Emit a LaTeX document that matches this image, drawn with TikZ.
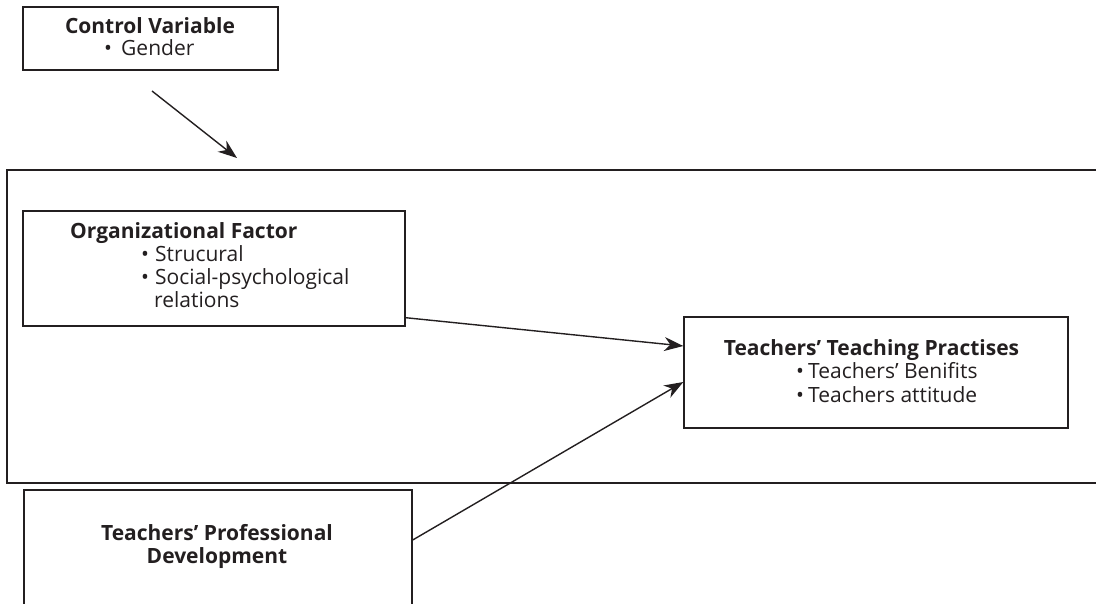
\documentclass[tikz,border=0pt]{standalone}
\usepackage{fontspec}
\setmainfont{Open Sans}
\usetikzlibrary{arrows.meta}
\definecolor{ink}{HTML}{231F20}
\begin{document}
\begin{tikzpicture}[x=1pt,y=-1pt,
  box/.style={draw=ink,line width=1.4pt,rectangle,inner sep=0pt},
  txt/.style={inner sep=0pt,text=ink,font=\fontsize{21}{23}\selectfont},
  ttl/.style={txt,font=\fontsize{21}{23}\selectfont\bfseries},
  arr/.style={draw=ink,line width=1.4pt,-{Stealth[length=19pt,width=14pt,inset=6pt]}}]
\useasboundingbox (0,0) rectangle (1096,603);
\clip (0,0) rectangle (1096,603);
% boxes
\node[box,minimum width=255pt,minimum height=63pt] (cv) at (150.5,38.5) {};
\draw[draw=ink,line width=1.4pt] (7,170) rectangle (1120,483);
\node[box,minimum width=382pt,minimum height=115pt] (org) at (214,268.5) {};
\node[box,minimum width=384pt,minimum height=111pt] (ttp) at (876,372.5) {};
\node[box,minimum width=388pt,minimum height=125pt] (prof) at (218,552.5) {};
% texts
\node[ttl,anchor=base] (cvt) at (150,33) {Control Variable};
\node[txt,anchor=base west] (cvb) at (104,55) {•};
\node[txt,anchor=base west] (cvg) at (121,55) {Gender};
\node[ttl,anchor=base west] (orgt) at (70,238) {Organizational Factor};
\node[txt,anchor=base west] (orgb1) at (141,261) {•};
\node[txt,anchor=base west] (orgs1) at (155,261) {Strucural};
\node[txt,anchor=base west] (orgb2) at (141,284) {•};
\node[txt,anchor=base west] (orgs2) at (155,284) {Social-psychological};
\node[txt,anchor=base west] (orgs3) at (154,307) {relations};
\node[ttl,anchor=base] (ttpt) at (871.5,355) {Teachers’ Teaching Practises};
\node[txt,anchor=base west] (ttpb1) at (796,378) {•};
\node[txt,anchor=base west] (ttps1) at (808,378) {Teachers’ Benifits};
\node[txt,anchor=base west] (ttpb2) at (796,402) {•};
\node[txt,anchor=base west] (ttps2) at (808,402) {Teachers attitude};
\node[ttl,anchor=base] (proft1) at (217,540) {Teachers’ Professional};
\node[ttl,anchor=base] (proft2) at (217,563) {Development};
% connectors
\coordinate (cva) at (152,91);
\coordinate (cvz) at (237,158);
\draw[arr] (cva) -- (cvz);
\draw[arr] ([yshift=9pt]org.south east) -- ([yshift=26.5pt]ttp.west);
\draw[arr] ([yshift=12.5pt]prof.east) -- ([yshift=-9.5pt]ttp.west);
\end{tikzpicture}
\end{document}
